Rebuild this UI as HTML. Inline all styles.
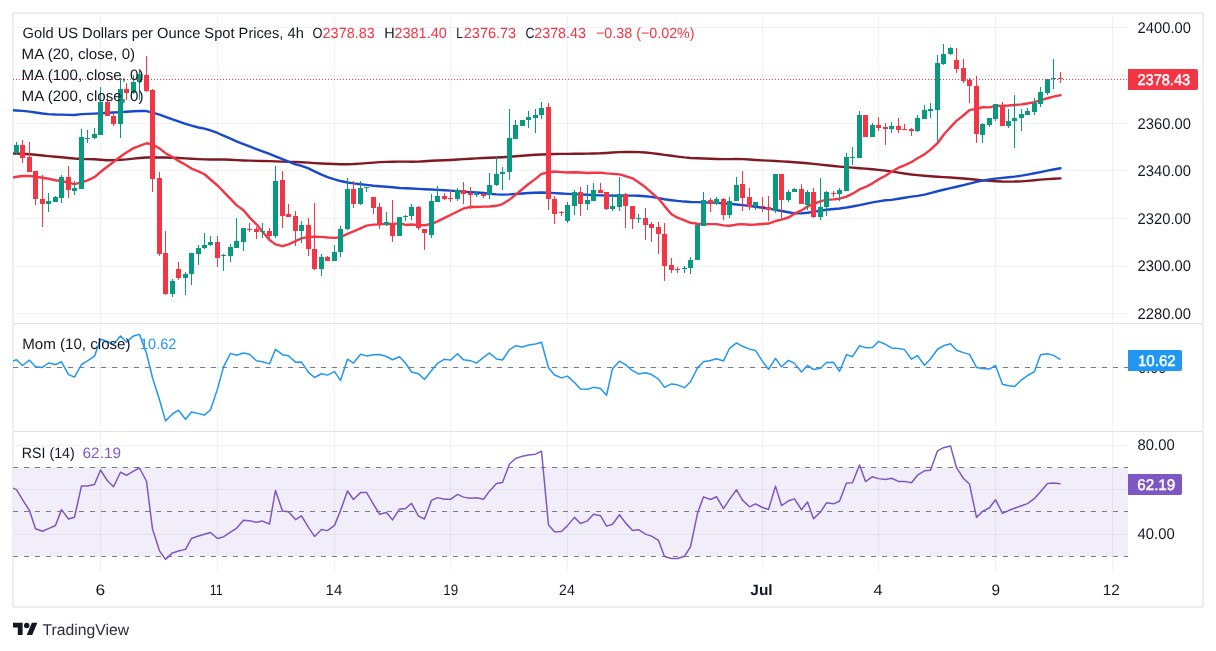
<!DOCTYPE html>
<html><head><meta charset="utf-8"><title>Gold US Dollars per Ounce Spot Prices, 4h</title>
<style>
html,body{margin:0;padding:0;background:#fff;}
body{width:1216px;height:651px;overflow:hidden;position:relative;}
svg{position:absolute;left:0;top:0;font-family:'Liberation Sans', Arial, sans-serif;will-change:transform;text-rendering:geometricPrecision;}
</style></head>
<body>
<svg width="1216" height="651" viewBox="0 0 1216 651">
<defs><clipPath id="cp"><rect x="13" y="14" width="1115" height="558"/></clipPath></defs>
<rect x="13" y="13" width="1190" height="594" fill="#fff" stroke="#eceef3" stroke-width="2"/>
<g clip-path="url(#cp)">
<rect x="14" y="467" width="1114" height="89" fill="#f2eef9"/>
<rect x="100" y="14" width="1" height="309" fill="rgba(40,58,60,0.065)"/>
<rect x="100" y="324" width="1" height="107" fill="rgba(40,58,60,0.065)"/>
<rect x="100" y="432" width="1" height="140" fill="rgba(40,58,60,0.065)"/>
<rect x="217" y="14" width="1" height="309" fill="rgba(40,58,60,0.065)"/>
<rect x="217" y="324" width="1" height="107" fill="rgba(40,58,60,0.065)"/>
<rect x="217" y="432" width="1" height="140" fill="rgba(40,58,60,0.065)"/>
<rect x="334" y="14" width="1" height="309" fill="rgba(40,58,60,0.065)"/>
<rect x="334" y="324" width="1" height="107" fill="rgba(40,58,60,0.065)"/>
<rect x="334" y="432" width="1" height="140" fill="rgba(40,58,60,0.065)"/>
<rect x="450" y="14" width="1" height="309" fill="rgba(40,58,60,0.065)"/>
<rect x="450" y="324" width="1" height="107" fill="rgba(40,58,60,0.065)"/>
<rect x="450" y="432" width="1" height="140" fill="rgba(40,58,60,0.065)"/>
<rect x="567" y="14" width="1" height="309" fill="rgba(40,58,60,0.065)"/>
<rect x="567" y="324" width="1" height="107" fill="rgba(40,58,60,0.065)"/>
<rect x="567" y="432" width="1" height="140" fill="rgba(40,58,60,0.065)"/>
<rect x="762" y="14" width="1" height="309" fill="rgba(40,58,60,0.065)"/>
<rect x="762" y="324" width="1" height="107" fill="rgba(40,58,60,0.065)"/>
<rect x="762" y="432" width="1" height="140" fill="rgba(40,58,60,0.065)"/>
<rect x="878" y="14" width="1" height="309" fill="rgba(40,58,60,0.065)"/>
<rect x="878" y="324" width="1" height="107" fill="rgba(40,58,60,0.065)"/>
<rect x="878" y="432" width="1" height="140" fill="rgba(40,58,60,0.065)"/>
<rect x="995" y="14" width="1" height="309" fill="rgba(40,58,60,0.065)"/>
<rect x="995" y="324" width="1" height="107" fill="rgba(40,58,60,0.065)"/>
<rect x="995" y="432" width="1" height="140" fill="rgba(40,58,60,0.065)"/>
<rect x="1112" y="14" width="1" height="309" fill="rgba(40,58,60,0.065)"/>
<rect x="1112" y="324" width="1" height="107" fill="rgba(40,58,60,0.065)"/>
<rect x="1112" y="432" width="1" height="140" fill="rgba(40,58,60,0.065)"/>
<rect x="14" y="27" width="1114" height="1" fill="rgba(40,58,60,0.065)"/>
<rect x="14" y="75" width="1114" height="1" fill="rgba(40,58,60,0.065)"/>
<rect x="14" y="123" width="1114" height="1" fill="rgba(40,58,60,0.065)"/>
<rect x="14" y="170" width="1114" height="1" fill="rgba(40,58,60,0.065)"/>
<rect x="14" y="218" width="1114" height="1" fill="rgba(40,58,60,0.065)"/>
<rect x="14" y="266" width="1114" height="1" fill="rgba(40,58,60,0.065)"/>
<rect x="14" y="313" width="1114" height="1" fill="rgba(40,58,60,0.065)"/>
<rect x="14" y="367" width="1114" height="1" fill="rgba(40,58,60,0.065)"/>
<rect x="14" y="445" width="1114" height="1" fill="rgba(40,58,60,0.065)"/>
<rect x="14" y="489" width="1114" height="1" fill="rgba(40,58,60,0.065)"/>
<rect x="14" y="534" width="1114" height="1" fill="rgba(40,58,60,0.065)"/>
<line x1="13" y1="367.5" x2="1128" y2="367.5" stroke="#787b86" stroke-width="1" stroke-dasharray="5 6"/>
<line x1="13" y1="467.5" x2="1128" y2="467.5" stroke="#787b86" stroke-width="1" stroke-dasharray="5 6"/>
<line x1="13" y1="511.5" x2="1128" y2="511.5" stroke="#787b86" stroke-width="1" stroke-dasharray="5 6"/>
<line x1="13" y1="556.5" x2="1128" y2="556.5" stroke="#787b86" stroke-width="1" stroke-dasharray="5 6"/>
<polyline points="10.02,153.48 16.50,153.67 22.50,153.82 29.50,154.19 35.50,154.77 42.50,155.55 48.50,156.14 55.50,156.78 61.50,157.32 68.50,158.01 74.50,158.56 81.50,158.97 87.50,159.11 94.50,159.32 100.50,159.77 107.50,160.23 113.50,160.09 120.50,159.78 126.50,159.36 133.50,158.65 139.50,158.05 146.50,157.55 152.50,157.43 159.50,157.43 165.50,157.53 172.50,157.73 178.50,158.00 185.50,158.37 191.50,158.72 198.50,159.10 204.50,159.38 210.50,159.50 217.50,159.39 223.50,159.47 230.50,159.81 236.50,160.14 243.50,160.43 249.50,160.65 256.50,160.86 262.50,161.00 269.50,161.16 275.50,161.36 282.50,161.63 288.50,161.84 295.50,162.06 301.50,162.26 308.50,162.61 314.50,163.08 321.50,163.49 327.50,163.79 334.50,164.05 340.50,164.20 347.50,164.23 353.50,164.03 360.50,163.58 366.50,163.15 373.50,162.60 379.50,162.15 386.50,161.84 392.50,161.69 399.50,161.60 405.50,161.61 411.50,161.68 418.50,161.66 424.50,161.31 431.50,160.78 437.50,160.50 444.50,160.22 450.50,159.94 457.50,159.52 463.50,159.14 470.50,158.73 476.50,158.39 483.50,158.04 489.50,157.82 496.50,157.57 502.50,157.25 509.50,156.77 515.50,156.32 522.50,155.78 528.50,155.29 535.50,154.78 541.50,154.47 548.50,154.19 554.50,154.02 561.50,153.90 567.50,153.87 574.50,153.79 580.50,153.70 587.50,153.60 593.50,153.48 600.50,153.28 606.50,152.97 612.50,152.56 619.50,152.15 625.50,151.94 632.50,151.90 638.50,152.10 645.50,152.55 651.50,153.15 658.50,154.02 664.50,154.82 671.50,155.81 677.50,156.58 684.50,157.40 690.50,157.93 697.50,158.30 703.50,158.54 710.50,158.80 716.50,158.99 723.50,159.12 729.50,159.10 736.50,159.04 742.50,159.09 749.50,159.45 755.50,159.94 762.50,160.38 768.50,160.67 775.50,161.01 781.50,161.34 788.50,161.79 794.50,162.24 801.50,162.80 807.50,163.31 813.50,163.86 820.50,164.58 826.50,165.28 833.50,166.06 839.50,166.61 846.50,167.15 852.50,167.61 859.50,168.18 865.50,168.67 872.50,169.28 878.50,169.86 885.50,170.62 891.50,171.41 898.50,172.56 904.50,173.53 911.50,174.44 917.50,175.08 924.50,175.74 930.50,176.20 937.50,176.68 943.50,177.08 950.50,177.53 956.50,177.95 963.50,178.53 969.50,179.05 976.50,179.74 982.50,180.39 989.50,180.92 995.50,181.27 1002.50,181.53 1008.50,181.60 1014.50,181.57 1021.50,181.35 1027.50,180.92 1034.50,180.28 1040.50,179.67 1047.50,179.17 1053.50,178.81 1060.50,178.41" fill="none" stroke="#801922" stroke-width="2.4" stroke-linejoin="round" stroke-linecap="round"/>
<polyline points="10.02,110.08 16.50,110.46 22.50,110.89 29.50,111.64 35.50,112.53 42.50,113.52 48.50,114.12 55.50,114.48 61.50,114.61 68.50,114.91 74.50,114.97 81.50,114.13 87.50,113.85 94.50,113.58 100.50,113.24 107.50,112.82 113.50,112.49 120.50,112.12 126.50,111.76 133.50,111.26 139.50,110.96 146.50,111.04 152.50,112.58 159.50,114.56 165.50,116.86 172.50,119.44 178.50,121.46 185.50,123.78 191.50,125.68 198.50,127.50 204.50,128.58 210.50,130.28 217.50,132.98 223.50,135.58 230.50,138.55 236.50,141.29 243.50,144.10 249.50,146.48 256.50,149.19 262.50,151.26 269.50,153.90 275.50,156.27 282.50,159.20 288.50,161.71 295.50,164.30 301.50,165.95 308.50,168.33 314.50,171.35 321.50,174.66 327.50,177.03 334.50,179.31 340.50,181.05 347.50,182.50 353.50,183.40 360.50,184.23 366.50,184.88 373.50,185.75 379.50,186.21 386.50,186.75 392.50,187.30 399.50,187.96 405.50,188.30 411.50,188.57 418.50,188.90 424.50,189.19 431.50,189.53 437.50,189.83 444.50,190.20 450.50,190.58 457.50,191.13 463.50,191.62 470.50,192.11 476.50,192.49 483.50,193.02 489.50,193.69 496.50,194.42 502.50,194.61 509.50,194.36 515.50,193.98 522.50,193.51 528.50,193.05 535.50,192.69 541.50,192.50 548.50,192.77 554.50,193.12 561.50,193.54 567.50,193.84 574.50,194.13 580.50,194.41 587.50,194.79 593.50,195.11 600.50,195.42 606.50,195.57 612.50,195.65 619.50,195.70 625.50,195.67 632.50,195.63 638.50,195.76 645.50,196.22 651.50,196.91 658.50,198.13 664.50,199.20 671.50,200.19 677.50,200.91 684.50,201.57 690.50,202.00 697.50,202.14 703.50,202.34 710.50,202.63 716.50,202.92 723.50,203.33 729.50,203.81 736.50,204.49 742.50,205.12 749.50,205.95 755.50,206.73 762.50,207.73 768.50,208.67 775.50,209.88 781.50,210.99 788.50,212.26 794.50,213.33 801.50,213.36 807.50,212.72 813.50,211.87 820.50,210.61 826.50,209.71 833.50,209.05 839.50,208.46 846.50,207.50 852.50,206.53 859.50,205.16 865.50,203.82 872.50,202.42 878.50,201.38 885.50,200.31 891.50,199.88 898.50,198.72 904.50,197.71 911.50,196.66 917.50,195.83 924.50,194.56 930.50,193.09 937.50,191.25 943.50,189.79 950.50,188.15 956.50,186.73 963.50,185.06 969.50,183.63 976.50,181.95 982.50,180.57 989.50,179.42 995.50,178.68 1002.50,177.87 1008.50,177.26 1014.50,176.64 1021.50,175.64 1027.50,174.59 1034.50,173.26 1040.50,172.08 1047.50,170.66 1053.50,169.49 1060.50,168.24" fill="none" stroke="#1848cc" stroke-width="2.4" stroke-linejoin="round" stroke-linecap="round"/>
<polyline points="10.02,178.12 16.50,176.77 22.50,175.96 29.50,175.91 35.50,176.71 42.50,177.75 48.50,178.79 55.50,180.23 61.50,181.00 68.50,182.65 74.50,184.20 81.50,182.44 87.50,180.39 94.50,177.18 100.50,171.99 107.50,166.48 113.50,161.96 120.50,156.45 126.50,152.46 133.50,148.12 139.50,145.97 146.50,143.25 152.50,144.30 159.50,148.43 165.50,153.18 172.50,157.04 178.50,160.88 185.50,164.74 191.50,168.53 198.50,171.41 204.50,174.27 210.50,179.50 217.50,185.51 223.50,191.56 230.50,198.81 236.50,205.09 243.50,210.31 249.50,217.38 256.50,224.32 262.50,231.76 269.50,239.84 275.50,244.35 282.50,246.19 288.50,244.31 295.50,241.16 301.50,238.36 308.50,236.93 314.50,236.64 321.50,236.86 327.50,237.50 334.50,237.88 340.50,237.25 347.50,233.81 353.50,231.27 360.50,228.31 366.50,225.63 373.50,224.59 379.50,224.33 386.50,223.82 392.50,224.11 399.50,223.19 405.50,224.97 411.50,224.55 418.50,225.13 424.50,225.23 431.50,224.05 437.50,221.39 444.50,217.91 450.50,214.98 457.50,211.47 463.50,208.53 470.50,206.81 476.50,207.06 483.50,206.64 489.50,206.49 496.50,205.81 502.50,204.03 509.50,199.67 515.50,194.81 522.50,188.99 528.50,183.97 535.50,178.90 541.50,173.94 548.50,172.49 554.50,171.50 561.50,172.10 567.50,172.54 574.50,172.20 580.50,172.44 587.50,172.94 593.50,172.75 600.50,172.64 606.50,173.40 612.50,173.92 619.50,174.38 625.50,176.02 632.50,178.35 638.50,182.35 645.50,187.34 651.50,192.72 658.50,198.60 664.50,206.12 671.50,214.20 677.50,217.72 684.50,220.43 690.50,222.76 697.50,223.76 703.50,224.17 710.50,224.16 716.50,224.12 723.50,225.33 729.50,225.76 736.50,224.57 742.50,224.14 749.50,224.78 755.50,224.56 762.50,223.96 768.50,223.56 775.50,221.03 781.50,219.63 788.50,217.52 794.50,213.70 801.50,210.41 807.50,206.53 813.50,203.97 820.50,201.34 826.50,199.70 833.50,199.38 839.50,198.70 846.50,196.60 852.50,193.70 859.50,189.40 865.50,186.98 872.50,183.34 878.50,179.40 885.50,175.71 891.50,171.67 898.50,167.67 904.50,165.44 911.50,162.00 917.50,158.31 924.50,154.35 930.50,149.62 937.50,143.19 943.50,135.06 950.50,127.08 956.50,120.92 963.50,115.27 969.50,110.08 976.50,108.91 982.50,107.27 989.50,107.42 995.50,105.80 1002.50,105.84 1008.50,105.52 1014.50,104.97 1021.50,104.38 1027.50,103.45 1034.50,102.11 1040.50,100.17 1047.50,98.22 1053.50,96.61 1060.50,95.11" fill="none" stroke="#f23645" stroke-width="2.4" stroke-linejoin="round" stroke-linecap="round"/>
<g shape-rendering="crispEdges"><rect x="16" y="142" width="1" height="3" fill="#089981"/><rect x="16" y="153" width="1" height="1" fill="#089981"/><rect x="14" y="145" width="5" height="8" fill="#089981"/><rect x="22" y="140" width="1" height="5" fill="#f23645"/><rect x="22" y="158" width="1" height="5" fill="#f23645"/><rect x="20" y="145" width="5" height="13" fill="#f23645"/><rect x="29" y="142" width="1" height="15" fill="#f23645"/><rect x="27" y="157" width="5" height="15" fill="#f23645"/><rect x="35" y="199" width="1" height="6" fill="#f23645"/><rect x="33" y="171" width="5" height="28" fill="#f23645"/><rect x="42" y="175" width="1" height="24" fill="#f23645"/><rect x="42" y="204" width="1" height="23" fill="#f23645"/><rect x="40" y="199" width="5" height="5" fill="#f23645"/><rect x="48" y="193" width="1" height="8" fill="#089981"/><rect x="48" y="204" width="1" height="8" fill="#089981"/><rect x="46" y="201" width="5" height="3" fill="#089981"/><rect x="55" y="196" width="1" height="1" fill="#089981"/><rect x="53" y="197" width="5" height="5" fill="#089981"/><rect x="61" y="175" width="1" height="2" fill="#089981"/><rect x="61" y="198" width="1" height="5" fill="#089981"/><rect x="59" y="177" width="5" height="21" fill="#089981"/><rect x="68" y="166" width="1" height="11" fill="#f23645"/><rect x="68" y="190" width="1" height="8" fill="#f23645"/><rect x="66" y="177" width="5" height="13" fill="#f23645"/><rect x="74" y="181" width="1" height="7" fill="#089981"/><rect x="74" y="191" width="1" height="4" fill="#089981"/><rect x="72" y="188" width="5" height="3" fill="#089981"/><rect x="81" y="129" width="1" height="8" fill="#089981"/><rect x="79" y="137" width="5" height="52" fill="#089981"/><rect x="87" y="130" width="1" height="8" fill="#089981"/><rect x="87" y="139" width="1" height="4" fill="#089981"/><rect x="85" y="138" width="5" height="1" fill="#089981"/><rect x="94" y="128" width="1" height="6" fill="#089981"/><rect x="94" y="138" width="1" height="1" fill="#089981"/><rect x="92" y="134" width="5" height="4" fill="#089981"/><rect x="100" y="87" width="1" height="15" fill="#089981"/><rect x="98" y="102" width="5" height="33" fill="#089981"/><rect x="107" y="96" width="1" height="6" fill="#f23645"/><rect x="105" y="102" width="5" height="14" fill="#f23645"/><rect x="113" y="113" width="1" height="3" fill="#f23645"/><rect x="113" y="124" width="1" height="2" fill="#f23645"/><rect x="111" y="116" width="5" height="8" fill="#f23645"/><rect x="120" y="78" width="1" height="11" fill="#089981"/><rect x="120" y="124" width="1" height="14" fill="#089981"/><rect x="118" y="89" width="5" height="35" fill="#089981"/><rect x="126" y="83" width="1" height="6" fill="#f23645"/><rect x="126" y="93" width="1" height="7" fill="#f23645"/><rect x="124" y="89" width="5" height="4" fill="#f23645"/><rect x="133" y="75" width="1" height="7" fill="#089981"/><rect x="133" y="93" width="1" height="1" fill="#089981"/><rect x="131" y="82" width="5" height="11" fill="#089981"/><rect x="139" y="70" width="1" height="4" fill="#089981"/><rect x="139" y="82" width="1" height="18" fill="#089981"/><rect x="137" y="74" width="5" height="8" fill="#089981"/><rect x="146" y="56" width="1" height="19" fill="#f23645"/><rect x="146" y="91" width="1" height="1" fill="#f23645"/><rect x="144" y="75" width="5" height="16" fill="#f23645"/><rect x="152" y="89" width="1" height="1" fill="#f23645"/><rect x="152" y="179" width="1" height="13" fill="#f23645"/><rect x="150" y="90" width="5" height="89" fill="#f23645"/><rect x="159" y="172" width="1" height="6" fill="#f23645"/><rect x="159" y="254" width="1" height="2" fill="#f23645"/><rect x="157" y="178" width="5" height="76" fill="#f23645"/><rect x="165" y="231" width="1" height="22" fill="#f23645"/><rect x="165" y="294" width="1" height="1" fill="#f23645"/><rect x="163" y="253" width="5" height="41" fill="#f23645"/><rect x="172" y="279" width="1" height="2" fill="#089981"/><rect x="172" y="294" width="1" height="3" fill="#089981"/><rect x="170" y="281" width="5" height="13" fill="#089981"/><rect x="178" y="262" width="1" height="7" fill="#f23645"/><rect x="178" y="278" width="1" height="2" fill="#f23645"/><rect x="176" y="269" width="5" height="9" fill="#f23645"/><rect x="185" y="272" width="1" height="2" fill="#089981"/><rect x="185" y="278" width="1" height="17" fill="#089981"/><rect x="183" y="274" width="5" height="4" fill="#089981"/><rect x="191" y="274" width="1" height="11" fill="#089981"/><rect x="189" y="253" width="5" height="21" fill="#089981"/><rect x="198" y="245" width="1" height="3" fill="#089981"/><rect x="198" y="254" width="1" height="11" fill="#089981"/><rect x="196" y="248" width="5" height="6" fill="#089981"/><rect x="204" y="233" width="1" height="12" fill="#089981"/><rect x="204" y="248" width="1" height="1" fill="#089981"/><rect x="202" y="245" width="5" height="3" fill="#089981"/><rect x="210" y="236" width="1" height="6" fill="#089981"/><rect x="210" y="245" width="1" height="1" fill="#089981"/><rect x="208" y="242" width="5" height="3" fill="#089981"/><rect x="217" y="236" width="1" height="6" fill="#f23645"/><rect x="217" y="258" width="1" height="9" fill="#f23645"/><rect x="215" y="242" width="5" height="16" fill="#f23645"/><rect x="223" y="254" width="1" height="1" fill="#089981"/><rect x="223" y="256" width="1" height="15" fill="#089981"/><rect x="221" y="255" width="5" height="1" fill="#089981"/><rect x="230" y="244" width="1" height="3" fill="#089981"/><rect x="230" y="256" width="1" height="6" fill="#089981"/><rect x="228" y="247" width="5" height="9" fill="#089981"/><rect x="236" y="218" width="1" height="23" fill="#089981"/><rect x="234" y="241" width="5" height="7" fill="#089981"/><rect x="243" y="242" width="1" height="9" fill="#089981"/><rect x="241" y="228" width="5" height="14" fill="#089981"/><rect x="249" y="223" width="1" height="6" fill="#f23645"/><rect x="249" y="230" width="1" height="2" fill="#f23645"/><rect x="247" y="229" width="5" height="1" fill="#f23645"/><rect x="256" y="227" width="1" height="2" fill="#f23645"/><rect x="256" y="232" width="1" height="7" fill="#f23645"/><rect x="254" y="229" width="5" height="3" fill="#f23645"/><rect x="262" y="223" width="1" height="8" fill="#089981"/><rect x="262" y="232" width="1" height="6" fill="#089981"/><rect x="260" y="231" width="5" height="1" fill="#089981"/><rect x="269" y="228" width="1" height="3" fill="#f23645"/><rect x="269" y="236" width="1" height="2" fill="#f23645"/><rect x="267" y="231" width="5" height="5" fill="#f23645"/><rect x="275" y="166" width="1" height="15" fill="#089981"/><rect x="275" y="236" width="1" height="2" fill="#089981"/><rect x="273" y="181" width="5" height="55" fill="#089981"/><rect x="282" y="171" width="1" height="9" fill="#f23645"/><rect x="282" y="216" width="1" height="12" fill="#f23645"/><rect x="280" y="180" width="5" height="36" fill="#f23645"/><rect x="288" y="204" width="1" height="10" fill="#f23645"/><rect x="286" y="214" width="5" height="3" fill="#f23645"/><rect x="295" y="211" width="1" height="5" fill="#f23645"/><rect x="295" y="231" width="1" height="15" fill="#f23645"/><rect x="293" y="216" width="5" height="15" fill="#f23645"/><rect x="301" y="221" width="1" height="4" fill="#089981"/><rect x="301" y="231" width="1" height="12" fill="#089981"/><rect x="299" y="225" width="5" height="6" fill="#089981"/><rect x="308" y="218" width="1" height="7" fill="#f23645"/><rect x="308" y="249" width="1" height="7" fill="#f23645"/><rect x="306" y="225" width="5" height="24" fill="#f23645"/><rect x="314" y="203" width="1" height="46" fill="#f23645"/><rect x="314" y="269" width="1" height="1" fill="#f23645"/><rect x="312" y="249" width="5" height="20" fill="#f23645"/><rect x="321" y="254" width="1" height="3" fill="#089981"/><rect x="321" y="269" width="1" height="7" fill="#089981"/><rect x="319" y="257" width="5" height="12" fill="#089981"/><rect x="327" y="256" width="1" height="1" fill="#f23645"/><rect x="325" y="257" width="5" height="4" fill="#f23645"/><rect x="334" y="245" width="1" height="7" fill="#089981"/><rect x="332" y="252" width="5" height="9" fill="#089981"/><rect x="340" y="226" width="1" height="3" fill="#089981"/><rect x="340" y="252" width="1" height="5" fill="#089981"/><rect x="338" y="229" width="5" height="23" fill="#089981"/><rect x="347" y="178" width="1" height="11" fill="#089981"/><rect x="347" y="229" width="1" height="1" fill="#089981"/><rect x="345" y="189" width="5" height="40" fill="#089981"/><rect x="353" y="181" width="1" height="8" fill="#f23645"/><rect x="353" y="204" width="1" height="4" fill="#f23645"/><rect x="351" y="189" width="5" height="15" fill="#f23645"/><rect x="360" y="181" width="1" height="7" fill="#089981"/><rect x="360" y="204" width="1" height="1" fill="#089981"/><rect x="358" y="188" width="5" height="16" fill="#089981"/><rect x="366" y="188" width="1" height="4" fill="#089981"/><rect x="364" y="187" width="5" height="1" fill="#089981"/><rect x="373" y="208" width="1" height="6" fill="#f23645"/><rect x="371" y="197" width="5" height="11" fill="#f23645"/><rect x="379" y="203" width="1" height="4" fill="#f23645"/><rect x="379" y="225" width="1" height="4" fill="#f23645"/><rect x="377" y="207" width="5" height="18" fill="#f23645"/><rect x="386" y="212" width="1" height="10" fill="#089981"/><rect x="386" y="225" width="1" height="1" fill="#089981"/><rect x="384" y="222" width="5" height="3" fill="#089981"/><rect x="392" y="200" width="1" height="23" fill="#f23645"/><rect x="392" y="236" width="1" height="6" fill="#f23645"/><rect x="390" y="223" width="5" height="13" fill="#f23645"/><rect x="397" y="217" width="5" height="19" fill="#089981"/><rect x="405" y="215" width="1" height="1" fill="#089981"/><rect x="405" y="217" width="1" height="4" fill="#089981"/><rect x="403" y="216" width="5" height="1" fill="#089981"/><rect x="411" y="204" width="1" height="3" fill="#089981"/><rect x="411" y="216" width="1" height="4" fill="#089981"/><rect x="409" y="207" width="5" height="9" fill="#089981"/><rect x="418" y="206" width="1" height="1" fill="#f23645"/><rect x="418" y="228" width="1" height="2" fill="#f23645"/><rect x="416" y="207" width="5" height="21" fill="#f23645"/><rect x="424" y="233" width="1" height="17" fill="#f23645"/><rect x="422" y="229" width="5" height="4" fill="#f23645"/><rect x="431" y="194" width="1" height="7" fill="#089981"/><rect x="431" y="235" width="1" height="3" fill="#089981"/><rect x="429" y="201" width="5" height="34" fill="#089981"/><rect x="437" y="186" width="1" height="10" fill="#089981"/><rect x="435" y="196" width="5" height="6" fill="#089981"/><rect x="444" y="193" width="1" height="3" fill="#f23645"/><rect x="444" y="199" width="1" height="1" fill="#f23645"/><rect x="442" y="196" width="5" height="3" fill="#f23645"/><rect x="450" y="190" width="1" height="8" fill="#f23645"/><rect x="450" y="199" width="1" height="3" fill="#f23645"/><rect x="448" y="198" width="5" height="1" fill="#f23645"/><rect x="457" y="188" width="1" height="2" fill="#089981"/><rect x="457" y="199" width="1" height="2" fill="#089981"/><rect x="455" y="190" width="5" height="9" fill="#089981"/><rect x="463" y="182" width="1" height="8" fill="#f23645"/><rect x="463" y="194" width="1" height="10" fill="#f23645"/><rect x="461" y="190" width="5" height="4" fill="#f23645"/><rect x="470" y="187" width="1" height="6" fill="#f23645"/><rect x="470" y="195" width="1" height="14" fill="#f23645"/><rect x="468" y="193" width="5" height="2" fill="#f23645"/><rect x="476" y="191" width="1" height="3" fill="#089981"/><rect x="476" y="195" width="1" height="2" fill="#089981"/><rect x="474" y="194" width="5" height="1" fill="#089981"/><rect x="483" y="193" width="1" height="1" fill="#f23645"/><rect x="483" y="196" width="1" height="2" fill="#f23645"/><rect x="481" y="194" width="5" height="2" fill="#f23645"/><rect x="489" y="173" width="1" height="12" fill="#089981"/><rect x="489" y="195" width="1" height="4" fill="#089981"/><rect x="487" y="185" width="5" height="10" fill="#089981"/><rect x="496" y="157" width="1" height="17" fill="#089981"/><rect x="496" y="185" width="1" height="1" fill="#089981"/><rect x="494" y="174" width="5" height="11" fill="#089981"/><rect x="502" y="167" width="1" height="5" fill="#089981"/><rect x="502" y="174" width="1" height="16" fill="#089981"/><rect x="500" y="172" width="5" height="2" fill="#089981"/><rect x="509" y="109" width="1" height="29" fill="#089981"/><rect x="509" y="172" width="1" height="8" fill="#089981"/><rect x="507" y="138" width="5" height="34" fill="#089981"/><rect x="515" y="120" width="1" height="5" fill="#089981"/><rect x="513" y="125" width="5" height="14" fill="#089981"/><rect x="520" y="120" width="5" height="6" fill="#089981"/><rect x="528" y="111" width="1" height="6" fill="#089981"/><rect x="528" y="120" width="1" height="8" fill="#089981"/><rect x="526" y="117" width="5" height="3" fill="#089981"/><rect x="535" y="109" width="1" height="6" fill="#089981"/><rect x="535" y="118" width="1" height="15" fill="#089981"/><rect x="533" y="115" width="5" height="3" fill="#089981"/><rect x="541" y="102" width="1" height="6" fill="#089981"/><rect x="541" y="115" width="1" height="4" fill="#089981"/><rect x="539" y="108" width="5" height="7" fill="#089981"/><rect x="548" y="103" width="1" height="4" fill="#f23645"/><rect x="548" y="199" width="1" height="11" fill="#f23645"/><rect x="546" y="107" width="5" height="92" fill="#f23645"/><rect x="554" y="196" width="1" height="3" fill="#f23645"/><rect x="554" y="214" width="1" height="10" fill="#f23645"/><rect x="552" y="199" width="5" height="15" fill="#f23645"/><rect x="561" y="211" width="1" height="1" fill="#f23645"/><rect x="561" y="213" width="1" height="3" fill="#f23645"/><rect x="559" y="212" width="5" height="1" fill="#f23645"/><rect x="567" y="202" width="1" height="3" fill="#089981"/><rect x="567" y="221" width="1" height="2" fill="#089981"/><rect x="565" y="205" width="5" height="16" fill="#089981"/><rect x="574" y="190" width="1" height="2" fill="#089981"/><rect x="574" y="206" width="1" height="9" fill="#089981"/><rect x="572" y="192" width="5" height="14" fill="#089981"/><rect x="580" y="187" width="1" height="5" fill="#f23645"/><rect x="580" y="204" width="1" height="12" fill="#f23645"/><rect x="578" y="192" width="5" height="12" fill="#f23645"/><rect x="587" y="185" width="1" height="15" fill="#089981"/><rect x="587" y="204" width="1" height="6" fill="#089981"/><rect x="585" y="200" width="5" height="4" fill="#089981"/><rect x="593" y="183" width="1" height="7" fill="#089981"/><rect x="591" y="190" width="5" height="11" fill="#089981"/><rect x="600" y="183" width="1" height="7" fill="#f23645"/><rect x="598" y="190" width="5" height="3" fill="#f23645"/><rect x="606" y="209" width="1" height="1" fill="#f23645"/><rect x="604" y="192" width="5" height="17" fill="#f23645"/><rect x="612" y="194" width="1" height="12" fill="#089981"/><rect x="612" y="209" width="1" height="2" fill="#089981"/><rect x="610" y="206" width="5" height="3" fill="#089981"/><rect x="619" y="177" width="1" height="17" fill="#089981"/><rect x="619" y="207" width="1" height="4" fill="#089981"/><rect x="617" y="194" width="5" height="13" fill="#089981"/><rect x="625" y="193" width="1" height="1" fill="#f23645"/><rect x="625" y="206" width="1" height="22" fill="#f23645"/><rect x="623" y="194" width="5" height="12" fill="#f23645"/><rect x="632" y="219" width="1" height="10" fill="#f23645"/><rect x="630" y="206" width="5" height="13" fill="#f23645"/><rect x="638" y="214" width="1" height="4" fill="#089981"/><rect x="638" y="219" width="1" height="4" fill="#089981"/><rect x="636" y="218" width="5" height="1" fill="#089981"/><rect x="645" y="208" width="1" height="10" fill="#f23645"/><rect x="645" y="225" width="1" height="15" fill="#f23645"/><rect x="643" y="218" width="5" height="7" fill="#f23645"/><rect x="651" y="222" width="1" height="2" fill="#f23645"/><rect x="651" y="228" width="1" height="14" fill="#f23645"/><rect x="649" y="224" width="5" height="4" fill="#f23645"/><rect x="658" y="222" width="1" height="5" fill="#f23645"/><rect x="658" y="234" width="1" height="20" fill="#f23645"/><rect x="656" y="227" width="5" height="7" fill="#f23645"/><rect x="664" y="223" width="1" height="11" fill="#f23645"/><rect x="664" y="266" width="1" height="15" fill="#f23645"/><rect x="662" y="234" width="5" height="32" fill="#f23645"/><rect x="671" y="258" width="1" height="7" fill="#f23645"/><rect x="671" y="270" width="1" height="3" fill="#f23645"/><rect x="669" y="265" width="5" height="5" fill="#f23645"/><rect x="677" y="267" width="1" height="2" fill="#f23645"/><rect x="677" y="270" width="1" height="3" fill="#f23645"/><rect x="675" y="269" width="5" height="1" fill="#f23645"/><rect x="684" y="266" width="1" height="2" fill="#089981"/><rect x="684" y="269" width="1" height="4" fill="#089981"/><rect x="682" y="268" width="5" height="1" fill="#089981"/><rect x="690" y="257" width="1" height="3" fill="#089981"/><rect x="690" y="268" width="1" height="6" fill="#089981"/><rect x="688" y="260" width="5" height="8" fill="#089981"/><rect x="697" y="223" width="1" height="2" fill="#089981"/><rect x="695" y="225" width="5" height="35" fill="#089981"/><rect x="703" y="192" width="1" height="8" fill="#089981"/><rect x="701" y="200" width="5" height="26" fill="#089981"/><rect x="710" y="198" width="1" height="2" fill="#f23645"/><rect x="710" y="204" width="1" height="8" fill="#f23645"/><rect x="708" y="200" width="5" height="4" fill="#f23645"/><rect x="716" y="197" width="1" height="2" fill="#089981"/><rect x="716" y="204" width="1" height="1" fill="#089981"/><rect x="714" y="199" width="5" height="5" fill="#089981"/><rect x="723" y="198" width="1" height="1" fill="#f23645"/><rect x="723" y="215" width="1" height="5" fill="#f23645"/><rect x="721" y="199" width="5" height="16" fill="#f23645"/><rect x="729" y="197" width="1" height="4" fill="#089981"/><rect x="729" y="215" width="1" height="3" fill="#089981"/><rect x="727" y="201" width="5" height="14" fill="#089981"/><rect x="736" y="177" width="1" height="8" fill="#089981"/><rect x="734" y="185" width="5" height="16" fill="#089981"/><rect x="742" y="171" width="1" height="13" fill="#f23645"/><rect x="742" y="198" width="1" height="13" fill="#f23645"/><rect x="740" y="184" width="5" height="14" fill="#f23645"/><rect x="749" y="188" width="1" height="9" fill="#f23645"/><rect x="749" y="207" width="1" height="3" fill="#f23645"/><rect x="747" y="197" width="5" height="10" fill="#f23645"/><rect x="755" y="206" width="1" height="4" fill="#089981"/><rect x="753" y="202" width="5" height="4" fill="#089981"/><rect x="762" y="197" width="1" height="9" fill="#f23645"/><rect x="762" y="207" width="1" height="5" fill="#f23645"/><rect x="760" y="206" width="5" height="1" fill="#f23645"/><rect x="768" y="196" width="1" height="11" fill="#f23645"/><rect x="768" y="210" width="1" height="11" fill="#f23645"/><rect x="766" y="207" width="5" height="3" fill="#f23645"/><rect x="775" y="210" width="1" height="3" fill="#089981"/><rect x="773" y="174" width="5" height="36" fill="#089981"/><rect x="781" y="200" width="1" height="18" fill="#f23645"/><rect x="779" y="174" width="5" height="26" fill="#f23645"/><rect x="788" y="190" width="1" height="2" fill="#089981"/><rect x="788" y="200" width="1" height="2" fill="#089981"/><rect x="786" y="192" width="5" height="8" fill="#089981"/><rect x="794" y="188" width="1" height="1" fill="#089981"/><rect x="792" y="189" width="5" height="3" fill="#089981"/><rect x="801" y="184" width="1" height="5" fill="#f23645"/><rect x="799" y="189" width="5" height="15" fill="#f23645"/><rect x="807" y="190" width="1" height="2" fill="#089981"/><rect x="807" y="205" width="1" height="5" fill="#089981"/><rect x="805" y="192" width="5" height="13" fill="#089981"/><rect x="813" y="188" width="1" height="4" fill="#f23645"/><rect x="813" y="217" width="1" height="1" fill="#f23645"/><rect x="811" y="192" width="5" height="25" fill="#f23645"/><rect x="820" y="178" width="1" height="29" fill="#089981"/><rect x="820" y="217" width="1" height="3" fill="#089981"/><rect x="818" y="207" width="5" height="10" fill="#089981"/><rect x="826" y="191" width="1" height="1" fill="#089981"/><rect x="826" y="207" width="1" height="9" fill="#089981"/><rect x="824" y="192" width="5" height="15" fill="#089981"/><rect x="833" y="191" width="1" height="2" fill="#f23645"/><rect x="833" y="194" width="1" height="3" fill="#f23645"/><rect x="831" y="193" width="5" height="1" fill="#f23645"/><rect x="839" y="188" width="1" height="2" fill="#089981"/><rect x="839" y="194" width="1" height="7" fill="#089981"/><rect x="837" y="190" width="5" height="4" fill="#089981"/><rect x="846" y="153" width="1" height="4" fill="#089981"/><rect x="844" y="157" width="5" height="34" fill="#089981"/><rect x="852" y="147" width="1" height="10" fill="#089981"/><rect x="852" y="158" width="1" height="7" fill="#089981"/><rect x="850" y="157" width="5" height="1" fill="#089981"/><rect x="859" y="111" width="1" height="4" fill="#089981"/><rect x="857" y="115" width="5" height="43" fill="#089981"/><rect x="863" y="115" width="5" height="22" fill="#f23645"/><rect x="872" y="123" width="1" height="2" fill="#089981"/><rect x="870" y="125" width="5" height="12" fill="#089981"/><rect x="878" y="117" width="1" height="8" fill="#f23645"/><rect x="878" y="128" width="1" height="3" fill="#f23645"/><rect x="876" y="125" width="5" height="3" fill="#f23645"/><rect x="885" y="123" width="1" height="4" fill="#f23645"/><rect x="885" y="129" width="1" height="16" fill="#f23645"/><rect x="883" y="127" width="5" height="2" fill="#f23645"/><rect x="891" y="122" width="1" height="4" fill="#089981"/><rect x="891" y="129" width="1" height="4" fill="#089981"/><rect x="889" y="126" width="5" height="3" fill="#089981"/><rect x="898" y="118" width="1" height="8" fill="#f23645"/><rect x="898" y="130" width="1" height="3" fill="#f23645"/><rect x="896" y="126" width="5" height="4" fill="#f23645"/><rect x="904" y="124" width="1" height="5" fill="#f23645"/><rect x="902" y="129" width="5" height="1" fill="#f23645"/><rect x="911" y="128" width="1" height="1" fill="#f23645"/><rect x="911" y="131" width="1" height="5" fill="#f23645"/><rect x="909" y="129" width="5" height="2" fill="#f23645"/><rect x="917" y="115" width="1" height="3" fill="#089981"/><rect x="917" y="131" width="1" height="1" fill="#089981"/><rect x="915" y="118" width="5" height="13" fill="#089981"/><rect x="924" y="105" width="1" height="5" fill="#089981"/><rect x="922" y="110" width="5" height="9" fill="#089981"/><rect x="930" y="103" width="1" height="6" fill="#089981"/><rect x="930" y="111" width="1" height="7" fill="#089981"/><rect x="928" y="109" width="5" height="2" fill="#089981"/><rect x="937" y="55" width="1" height="8" fill="#089981"/><rect x="937" y="110" width="1" height="32" fill="#089981"/><rect x="935" y="63" width="5" height="47" fill="#089981"/><rect x="943" y="44" width="1" height="10" fill="#089981"/><rect x="943" y="64" width="1" height="1" fill="#089981"/><rect x="941" y="54" width="5" height="10" fill="#089981"/><rect x="950" y="47" width="1" height="1" fill="#089981"/><rect x="950" y="54" width="1" height="1" fill="#089981"/><rect x="948" y="48" width="5" height="6" fill="#089981"/><rect x="956" y="48" width="1" height="12" fill="#f23645"/><rect x="956" y="69" width="1" height="4" fill="#f23645"/><rect x="954" y="60" width="5" height="9" fill="#f23645"/><rect x="963" y="59" width="1" height="9" fill="#f23645"/><rect x="963" y="81" width="1" height="2" fill="#f23645"/><rect x="961" y="68" width="5" height="13" fill="#f23645"/><rect x="969" y="78" width="1" height="2" fill="#f23645"/><rect x="969" y="86" width="1" height="17" fill="#f23645"/><rect x="967" y="80" width="5" height="6" fill="#f23645"/><rect x="976" y="76" width="1" height="10" fill="#f23645"/><rect x="976" y="134" width="1" height="9" fill="#f23645"/><rect x="974" y="86" width="5" height="48" fill="#f23645"/><rect x="982" y="123" width="1" height="1" fill="#089981"/><rect x="982" y="135" width="1" height="8" fill="#089981"/><rect x="980" y="124" width="5" height="11" fill="#089981"/><rect x="989" y="125" width="1" height="2" fill="#089981"/><rect x="987" y="118" width="5" height="7" fill="#089981"/><rect x="995" y="119" width="1" height="2" fill="#089981"/><rect x="993" y="104" width="5" height="15" fill="#089981"/><rect x="1002" y="102" width="1" height="3" fill="#f23645"/><rect x="1000" y="105" width="5" height="21" fill="#f23645"/><rect x="1008" y="109" width="1" height="12" fill="#089981"/><rect x="1008" y="126" width="1" height="2" fill="#089981"/><rect x="1006" y="121" width="5" height="5" fill="#089981"/><rect x="1014" y="95" width="1" height="23" fill="#089981"/><rect x="1014" y="121" width="1" height="27" fill="#089981"/><rect x="1012" y="118" width="5" height="3" fill="#089981"/><rect x="1021" y="109" width="1" height="5" fill="#089981"/><rect x="1021" y="118" width="1" height="13" fill="#089981"/><rect x="1019" y="114" width="5" height="4" fill="#089981"/><rect x="1027" y="108" width="1" height="3" fill="#089981"/><rect x="1025" y="111" width="5" height="4" fill="#089981"/><rect x="1034" y="98" width="1" height="5" fill="#089981"/><rect x="1034" y="112" width="1" height="3" fill="#089981"/><rect x="1032" y="103" width="5" height="9" fill="#089981"/><rect x="1040" y="87" width="1" height="5" fill="#089981"/><rect x="1040" y="104" width="1" height="3" fill="#089981"/><rect x="1038" y="92" width="5" height="12" fill="#089981"/><rect x="1047" y="93" width="1" height="2" fill="#089981"/><rect x="1045" y="79" width="5" height="14" fill="#089981"/><rect x="1053" y="59" width="1" height="19" fill="#089981"/><rect x="1053" y="79" width="1" height="10" fill="#089981"/><rect x="1051" y="78" width="5" height="1" fill="#089981"/><rect x="1060" y="72" width="1" height="6" fill="#f23645"/><rect x="1060" y="79" width="1" height="4" fill="#f23645"/><rect x="1058" y="78" width="5" height="1" fill="#f23645"/></g>
<line x1="13" y1="79.5" x2="1128" y2="79.5" stroke="#f23645" stroke-width="1" stroke-dasharray="1 2"/>
<polyline points="10.02,362.00 16.50,359.70 22.50,365.50 29.50,360.20 35.50,366.80 42.50,367.40 48.50,363.00 55.50,364.60 61.50,361.80 68.50,374.60 74.50,377.10 81.50,364.49 87.50,360.87 94.50,356.16 100.50,339.18 107.50,341.53 113.50,344.38 120.50,335.95 126.50,342.18 133.50,335.93 139.50,334.37 146.50,353.26 152.50,377.74 159.50,399.68 165.50,420.86 172.50,413.99 178.50,410.23 185.50,419.32 191.50,412.05 198.50,413.63 204.50,415.08 210.50,409.71 217.50,388.87 223.50,366.85 230.50,353.37 236.50,355.28 243.50,352.95 249.50,354.18 256.50,360.68 262.50,361.83 269.50,363.90 275.50,349.30 282.50,354.70 288.50,355.79 295.50,362.17 301.50,362.12 308.50,372.32 314.50,377.47 321.50,373.75 327.50,375.13 334.50,371.63 340.50,380.40 347.50,359.16 353.50,363.06 360.50,354.28 366.50,355.89 373.50,354.80 379.50,354.53 386.50,356.51 392.50,359.76 399.50,356.73 405.50,363.04 411.50,371.97 418.50,373.82 424.50,379.57 431.50,370.52 437.50,363.44 444.50,359.19 450.50,360.13 457.50,353.74 463.50,359.87 470.50,360.67 476.50,363.09 483.50,357.33 489.50,352.97 496.50,359.04 502.50,360.02 509.50,349.55 515.50,345.81 522.50,346.98 528.50,345.05 535.50,343.96 541.50,342.27 548.50,367.82 554.50,374.97 561.50,377.87 567.50,376.10 574.50,382.46 580.50,389.11 587.50,389.18 593.50,387.36 600.50,388.49 606.50,395.31 612.50,368.73 619.50,361.21 625.50,364.69 632.50,370.71 638.50,373.89 645.50,372.78 651.50,374.55 658.50,379.17 664.50,387.32 671.50,383.91 677.50,384.84 684.50,387.68 690.50,381.74 697.50,367.89 703.50,361.74 710.50,360.57 716.50,358.71 723.50,360.91 729.50,348.46 736.50,342.95 742.50,346.31 749.50,349.12 755.50,350.42 762.50,361.43 768.50,369.23 775.50,358.43 781.50,366.82 788.50,360.40 794.50,363.40 801.50,371.98 807.50,365.31 813.50,369.57 820.50,368.23 826.50,362.55 833.50,362.30 839.50,371.24 846.50,354.63 852.50,356.72 859.50,345.77 865.50,347.63 872.50,347.54 878.50,341.42 885.50,344.31 891.50,347.95 898.50,348.53 904.50,349.62 911.50,359.22 917.50,355.63 924.50,365.21 930.50,358.98 937.50,349.23 943.50,345.84 950.50,343.82 956.50,350.33 963.50,352.62 969.50,354.36 976.50,367.40 982.50,368.54 989.50,369.12 995.50,365.42 1002.50,384.18 1008.50,385.71 1014.50,386.58 1021.50,379.77 1027.50,375.52 1034.50,371.56 1040.50,354.83 1047.50,353.73 1053.50,355.40 1060.50,359.58" fill="none" stroke="#2196f3" stroke-width="1.5" stroke-linejoin="round"/>
<polyline points="10.02,487.00 16.50,489.60 22.50,499.53 29.50,510.61 35.50,528.74 42.50,531.26 48.50,528.57 55.50,525.52 61.50,509.62 68.50,518.97 74.50,517.20 81.50,485.88 87.50,485.91 94.50,484.43 100.50,470.00 107.50,480.82 113.50,486.75 120.50,472.29 126.50,475.29 133.50,471.07 139.50,468.02 146.50,481.23 152.50,528.96 159.50,550.81 165.50,559.42 172.50,552.91 178.50,551.03 185.50,549.38 191.50,538.43 198.50,536.01 204.50,534.24 210.50,532.51 217.50,538.50 223.50,536.89 230.50,532.16 236.50,528.35 243.50,520.33 249.50,520.81 256.50,522.25 262.50,521.08 269.50,524.02 275.50,490.39 282.50,511.11 288.50,511.82 295.50,519.60 301.50,515.78 308.50,527.29 314.50,536.43 321.50,529.47 327.50,530.62 334.50,525.36 340.50,510.60 347.50,491.06 353.50,499.45 360.50,492.61 366.50,492.46 373.50,504.31 379.50,514.16 386.50,512.49 392.50,519.90 399.50,509.20 405.50,508.46 411.50,503.33 418.50,516.16 424.50,519.00 431.50,500.37 437.50,497.64 444.50,499.30 450.50,499.30 457.50,494.39 463.50,497.13 470.50,498.19 476.50,497.80 483.50,499.20 489.50,491.15 496.50,483.58 502.50,482.43 509.50,463.98 515.50,458.54 522.50,456.16 528.50,455.09 535.50,454.17 541.50,451.27 548.50,525.02 554.50,531.66 561.50,531.45 567.50,525.62 574.50,517.37 580.50,523.56 587.50,520.87 593.50,514.25 600.50,515.64 606.50,526.13 612.50,524.26 619.50,514.75 625.50,522.87 632.50,530.52 638.50,529.74 645.50,534.15 651.50,536.09 658.50,540.45 664.50,556.44 671.50,558.42 677.50,558.47 684.50,556.28 690.50,546.75 697.50,513.36 703.50,496.84 710.50,499.54 716.50,496.73 723.50,508.61 729.50,499.36 736.50,489.76 742.50,500.13 749.50,506.82 755.50,503.82 762.50,507.52 768.50,509.56 775.50,486.12 781.50,505.52 788.50,500.82 794.50,498.87 801.50,509.75 807.50,501.98 813.50,518.63 820.50,512.06 826.50,502.81 833.50,503.85 839.50,501.30 846.50,482.92 852.50,482.82 859.50,465.04 865.50,481.57 872.50,476.70 878.50,478.63 885.50,479.46 891.50,478.27 898.50,481.38 904.50,481.38 911.50,482.74 917.50,475.22 924.50,470.87 930.50,470.34 937.50,450.84 943.50,447.68 950.50,445.92 956.50,467.70 963.50,478.53 969.50,484.05 976.50,517.40 982.50,511.45 989.50,507.76 995.50,499.68 1002.50,513.33 1008.50,510.56 1014.50,508.22 1021.50,505.70 1027.50,503.65 1034.50,498.47 1040.50,491.75 1047.50,483.55 1053.50,483.06 1060.50,483.87" fill="none" stroke="#7e57c2" stroke-width="1.5" stroke-linejoin="round"/>
</g>
<rect x="14" y="323" width="1188" height="1" fill="#e0e3eb"/><rect x="14" y="431" width="1188" height="1" fill="#e0e3eb"/>
<text x="22.60" y="37.8" font-size="14.8" fill="#131722" font-weight="normal" textLength="281.24" lengthAdjust="spacingAndGlyphs">Gold US Dollars per Ounce Spot Prices, 4h</text><text x="312.51" y="37.8" font-size="14.8" fill="#131722" font-weight="normal" textLength="10.02" lengthAdjust="spacingAndGlyphs">O</text><text x="322.60" y="37.8" font-size="14.8" fill="#f23645" font-weight="normal" textLength="52.18" lengthAdjust="spacingAndGlyphs">2378.83</text><text x="384.13" y="37.8" font-size="14.8" fill="#131722" font-weight="normal" textLength="10.45" lengthAdjust="spacingAndGlyphs">H</text><text x="394.42" y="37.8" font-size="14.8" fill="#f23645" font-weight="normal" textLength="52.38" lengthAdjust="spacingAndGlyphs">2381.40</text><text x="456.19" y="37.8" font-size="14.8" fill="#131722" font-weight="normal" textLength="6.71" lengthAdjust="spacingAndGlyphs">L</text><text x="463.82" y="37.8" font-size="14.8" fill="#f23645" font-weight="normal" textLength="52.38" lengthAdjust="spacingAndGlyphs">2376.73</text><text x="525.47" y="37.8" font-size="14.8" fill="#131722" font-weight="normal" textLength="9.00" lengthAdjust="spacingAndGlyphs">C</text><text x="534.21" y="37.8" font-size="14.8" fill="#f23645" font-weight="normal" textLength="51.78" lengthAdjust="spacingAndGlyphs">2378.43</text><text x="596.03" y="37.8" font-size="14.8" fill="#f23645" font-weight="normal" textLength="98.55" lengthAdjust="spacingAndGlyphs">−0.38 (−0.02%)</text><text x="21.59" y="58.9" font-size="15.0" fill="#131722" font-weight="normal" textLength="113.57" lengthAdjust="spacingAndGlyphs">MA (20, close, 0)</text><text x="21.59" y="79.8" font-size="15.0" fill="#131722" font-weight="normal" textLength="121.91" lengthAdjust="spacingAndGlyphs">MA (100, close, 0)</text><text x="21.59" y="100.8" font-size="15.0" fill="#131722" font-weight="normal" textLength="121.91" lengthAdjust="spacingAndGlyphs">MA (200, close, 0)</text><text x="22.19" y="349.0" font-size="15.0" fill="#131722" font-weight="normal" textLength="108.36" lengthAdjust="spacingAndGlyphs">Mom (10, close)</text><text x="140.03" y="349.0" font-size="15.0" fill="#2196f3" font-weight="normal" textLength="36.41" lengthAdjust="spacingAndGlyphs">10.62</text><text x="21.83" y="457.5" font-size="15.0" fill="#131722" font-weight="normal" textLength="52.87" lengthAdjust="spacingAndGlyphs">RSI (14)</text><text x="82.58" y="457.5" font-size="15.0" fill="#7e57c2" font-weight="normal" textLength="38.39" lengthAdjust="spacingAndGlyphs">62.19</text><text x="1137.62" y="32.8" font-size="15.4" fill="#131722" font-weight="normal" textLength="53.33" lengthAdjust="spacingAndGlyphs">2400.00</text><text x="1137.62" y="128.8" font-size="15.4" fill="#131722" font-weight="normal" textLength="53.33" lengthAdjust="spacingAndGlyphs">2360.00</text><text x="1137.62" y="175.8" font-size="15.4" fill="#131722" font-weight="normal" textLength="53.33" lengthAdjust="spacingAndGlyphs">2340.00</text><text x="1137.62" y="223.8" font-size="15.4" fill="#131722" font-weight="normal" textLength="53.33" lengthAdjust="spacingAndGlyphs">2320.00</text><text x="1137.62" y="271.3" font-size="15.4" fill="#131722" font-weight="normal" textLength="53.33" lengthAdjust="spacingAndGlyphs">2300.00</text><text x="1137.62" y="318.8" font-size="15.4" fill="#131722" font-weight="normal" textLength="53.33" lengthAdjust="spacingAndGlyphs">2280.00</text><text x="1138.36" y="372.9" font-size="15.4" fill="#131722" font-weight="normal" textLength="28.01" lengthAdjust="spacingAndGlyphs">0.00</text><text x="1137.61" y="450.0" font-size="15.4" fill="#131722" font-weight="normal" textLength="37.07" lengthAdjust="spacingAndGlyphs">80.00</text><text x="1137.61" y="539.0" font-size="15.4" fill="#131722" font-weight="normal" textLength="37.07" lengthAdjust="spacingAndGlyphs">40.00</text><text x="42.40" y="635.1" font-size="15.6" fill="#2a2e39" font-weight="normal" textLength="86.63" lengthAdjust="spacingAndGlyphs">TradingView</text><text x="95.61" y="595.0" font-size="15.0" fill="#131722" font-weight="normal" textLength="9.66" lengthAdjust="spacingAndGlyphs">6</text><text x="209.70" y="595.0" font-size="15.0" fill="#131722" font-weight="normal" textLength="12.95" lengthAdjust="spacingAndGlyphs">11</text><text x="325.60" y="595.0" font-size="15.0" fill="#131722" font-weight="normal" textLength="16.60" lengthAdjust="spacingAndGlyphs">14</text><text x="443.29" y="595.0" font-size="15.0" fill="#131722" font-weight="normal" textLength="14.85" lengthAdjust="spacingAndGlyphs">19</text><text x="559.06" y="595.0" font-size="15.0" fill="#131722" font-weight="normal" textLength="15.71" lengthAdjust="spacingAndGlyphs">24</text><text x="750.35" y="595.0" font-size="15.0" fill="#131722" font-weight="bold" textLength="22.30" lengthAdjust="spacingAndGlyphs">Jul</text><text x="873.47" y="595.0" font-size="15.0" fill="#131722" font-weight="normal" textLength="8.98" lengthAdjust="spacingAndGlyphs">4</text><text x="991.40" y="595.0" font-size="15.0" fill="#131722" font-weight="normal" textLength="8.54" lengthAdjust="spacingAndGlyphs">9</text><text x="1102.72" y="595.0" font-size="15.0" fill="#131722" font-weight="normal" textLength="17.10" lengthAdjust="spacingAndGlyphs">12</text>
<path d="M1128,69 H1196 Q1198,69 1198,71 V88 Q1198,90 1196,90 H1128 Z" fill="#f23645"/><path d="M1128,350 H1180 Q1182,350 1182,352 V369 Q1182,371 1180,371 H1128 Z" fill="#2196f3"/><path d="M1128,474 H1180 Q1182,474 1182,476 V493 Q1182,495 1180,495 H1128 Z" fill="#7e57c2"/><text stroke="#fff" stroke-width="0.45" x="1137.45" y="85.0" font-size="15.4" fill="#ffffff" font-weight="normal" textLength="52.66" lengthAdjust="spacingAndGlyphs">2378.43</text><text stroke="#fff" stroke-width="0.45" x="1138.02" y="365.7" font-size="15.4" fill="#ffffff" font-weight="normal" textLength="37.59" lengthAdjust="spacingAndGlyphs">10.62</text><text stroke="#fff" stroke-width="0.45" x="1137.20" y="489.7" font-size="15.4" fill="#ffffff" font-weight="normal" textLength="38.11" lengthAdjust="spacingAndGlyphs">62.19</text>
<g transform="translate(13,619.96) scale(0.686)" fill="#131722"><path d="M14 22H7V11H0V4h14v18zM28 22h-8l7.5-18h8L28 22z"/><circle cx="20" cy="8" r="4"/></g>
</svg>
</body></html>
